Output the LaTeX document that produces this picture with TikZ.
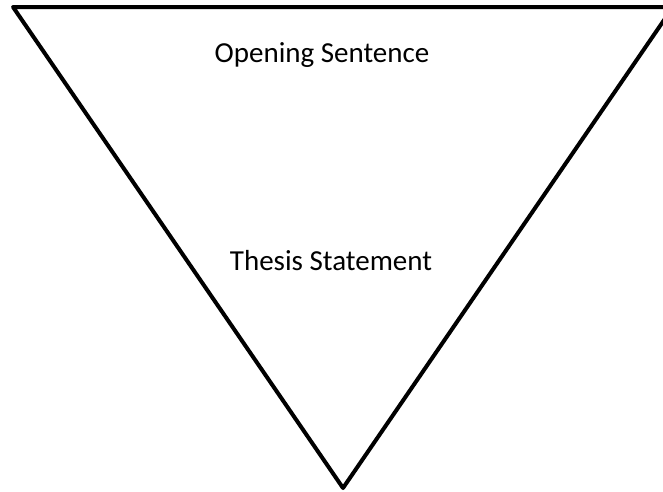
\documentclass[tikz,border=0pt]{standalone}
\usepackage{fontspec}
\setmainfont{Carlito}
\begin{document}
\begin{tikzpicture}[x=1pt,y=1pt,
  edge/.style={draw=black,line width=4pt,line join=round},
  label/.style={font=\fontsize{29}{34}\selectfont,anchor=base,inner sep=0pt}]
\useasboundingbox (0,0) rectangle (663,-491);
\clip (0,0) rectangle (663,-491);
\coordinate (tl) at (13,-7);
\coordinate (tr) at (673,-7);
\coordinate (bot) at (343,-488);
\draw[edge] (tl) -- (tr) -- (bot) -- cycle;
\node[label] (open) at (322,-62) {Opening Sentence};
\node[label] (thesis) at (331,-270) {Thesis Statement};
\end{tikzpicture}
\end{document}
